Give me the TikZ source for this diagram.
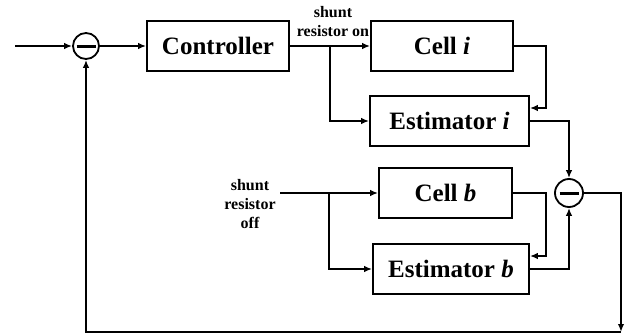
\documentclass[tikz,border=0pt]{standalone}
\usepackage{fontspec}
\setmainfont{Liberation Serif}
\usetikzlibrary{arrows.meta, positioning, calc}
\tikzset{
    block/.style={rectangle, draw, line width=1.8pt, inner sep=0pt, minimum height=50pt, font=\bfseries\fontsize{25}{28}\selectfont},
    sum/.style={circle, draw, line width=1.8pt, inner sep=0pt, minimum size=26pt,
        path picture={\draw[line width=3pt] ([xshift=-9.5pt]path picture bounding box.center) -- ([xshift=9.5pt]path picture bounding box.center);}},
    note/.style={align=center, inner sep=0pt, font=\bfseries\fontsize{16}{19}\selectfont},
    arrow/.style={-{Latex[length=8pt,width=6.5pt]}, line width=1.8pt}
}
\begin{document}
\begin{tikzpicture}[x=1pt, y=-1pt]
            \useasboundingbox (0,0) rectangle (633,335);
			\node (sum1) [sum] at (86,46) {};
			\node (ctrl) [block, minimum width=142pt] at (218,46) {Controller};
			\node (celli) [block, minimum width=142pt] at (442,46) {Cell \emph{i}};
			\node (esti) [block, minimum width=159pt] at (449.5,121) {Estimator \emph{i}};
			\node (sum2) [sum, minimum size=28pt] at (569,193) {};
			\node (cellb) [block, minimum width=133pt] at (445.5,193) {Cell \emph{b}};
			\node (estb) [block, minimum width=156pt] at (451,269) {Estimator \emph{b}};
			\node (on) [note] at (333,22) {shunt\\resistor on};
			\node (off) [note] at (250,204) {shunt\\resistor\\off};

			\coordinate (in) at (15,46);
			\coordinate (j1) at (330,46);
			\coordinate (offin) at (280,193);
			\coordinate (j2) at (329,193);
			\coordinate (fb) at (621,332);

			\draw [arrow] (in) -- (sum1);
			\draw [arrow] (sum1) -- (ctrl);
			\draw [arrow] (ctrl) -- (celli);
			\draw [arrow] (j1) |- (esti.west);
			\draw [arrow] (celli.east) -- ++(32,0) |- ([yshift=13pt]esti.east);
			\draw [arrow] (esti.east) -| (sum2.north);
			\draw [arrow] (offin) -- (cellb.west);
			\draw [arrow] (j2) |- (estb.west);
			\draw [arrow] (cellb.east) -- ++(33,0) |- ([yshift=13pt]estb.east);
			\draw [arrow] (estb.east) -| (sum2.south);
			\draw [arrow] (sum2.east) -| (fb);
			\draw [arrow] (fb) -| (sum1.south);
		\end{tikzpicture}
\end{document}
